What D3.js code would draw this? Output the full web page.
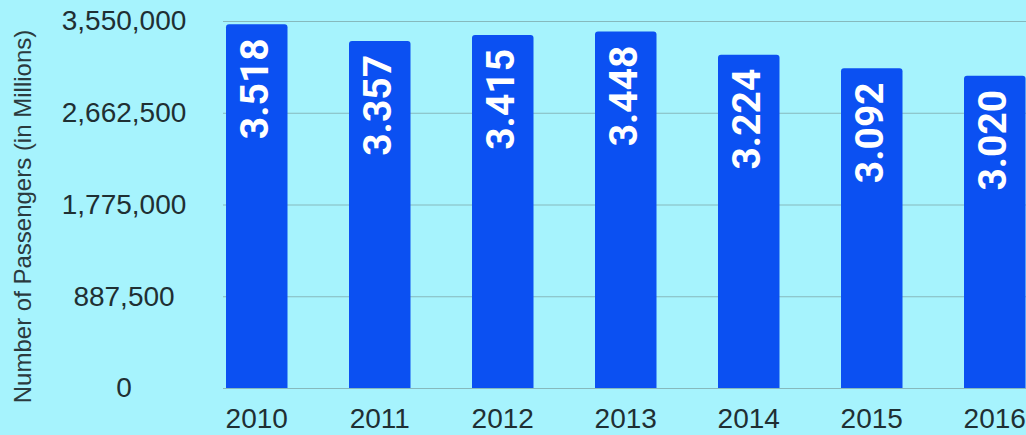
<!DOCTYPE html>
<html>
<head>
<meta charset="utf-8">
<script src="https://cdn.jsdelivr.net/npm/d3@7"></script>
<style>
  html, body { margin: 0; padding: 0; background: #a6f3fd; overflow: hidden; }
  svg { display: block; }
</style>
</head>
<body>
<svg id="chart" width="1026" height="435"></svg>
<script>
const years = ["2010", "2011", "2012", "2013", "2014", "2015", "2016"];
const passengers = [3518000, 3357000, 3415000, 3448000, 3224000, 3092000, 3020000];
const barLabels = ["3.518", "3.357", "3.415", "3.448", "3.224", "3.092", "3.020"];
const yTicks = [0, 887500, 1775000, 2662500, 3550000];
const yTitle = "Number of Passengers (in Millions)";

const W = 1026, H = 435;
const svg = d3.select("#chart");
svg.append("rect").attr("width", W).attr("height", H).attr("fill", "#a6f3fd");

const gridLeft = 223;
const x = d3.scaleBand().domain(years).range([195.25, 1056.25]).paddingInner(0.5).paddingOuter(0.25);
const y = d3.scaleLinear().domain([0, 3550000]).range([388, 21]);

// gridlines + y tick labels
const yAxis = svg.append("g")
  .attr("transform", `translate(${gridLeft},0)`)
  .call(d3.axisLeft(y).tickValues(yTicks).tickSize(-(W - gridLeft)).tickFormat(d3.format(",")));
yAxis.select(".domain").remove();
yAxis.selectAll(".tick line").attr("stroke", "#86b9bd").attr("stroke-width", 1);
yAxis.selectAll(".tick text")
  .attr("x", 124 - gridLeft)
  .attr("text-anchor", "middle")
  .attr("fill", "#1f2f33")
  .style("font-family", "'Liberation Sans', Arial, sans-serif")
  .style("font-size", "28px");

// bars with rounded top corners
const r = 3;
function barPath(d, i) {
  const x0 = x(years[i]), w = x.bandwidth();
  const yt = y(d), yb = y(0);
  return `M${x0},${yb}V${yt + r}Q${x0},${yt} ${x0 + r},${yt}H${x0 + w - r}Q${x0 + w},${yt} ${x0 + w},${yt + r}V${yb}Z`;
}
svg.append("g").selectAll("path").data(passengers).join("path")
  .attr("d", barPath)
  .attr("fill", "#0b50f2");

// bar value labels
svg.append("g").selectAll("text").data(passengers).join("text")
  .attr("transform", (d, i) => `translate(${x(years[i]) + x.bandwidth() / 2 + 11},${y(d) + 14}) rotate(-90)`)
  .attr("text-anchor", "end")
  .attr("fill", "#ffffff")
  .style("font-family", "Roboto, 'Liberation Sans', sans-serif")
  .style("font-weight", "bold")
  .style("font-size", "39px")
  .text((d, i) => barLabels[i]);

// x axis labels
const xAxis = svg.append("g")
  .attr("transform", `translate(0,${y(0)})`)
  .call(d3.axisBottom(x).tickSize(0).tickPadding(20));
xAxis.select(".domain").remove();
xAxis.selectAll(".tick text")
  .attr("fill", "#1f2f33")
  .style("font-family", "'Liberation Sans', Arial, sans-serif")
  .style("font-size", "28px");

// y axis title
svg.append("text")
  .attr("transform", `translate(31,${(28 + 405) / 2}) rotate(-90)`)
  .attr("text-anchor", "middle")
  .attr("fill", "#2b3a3e")
  .style("font-family", "'Liberation Sans', Arial, sans-serif")
  .style("font-size", "24px")
  .text(yTitle);
</script>
</body>
</html>
